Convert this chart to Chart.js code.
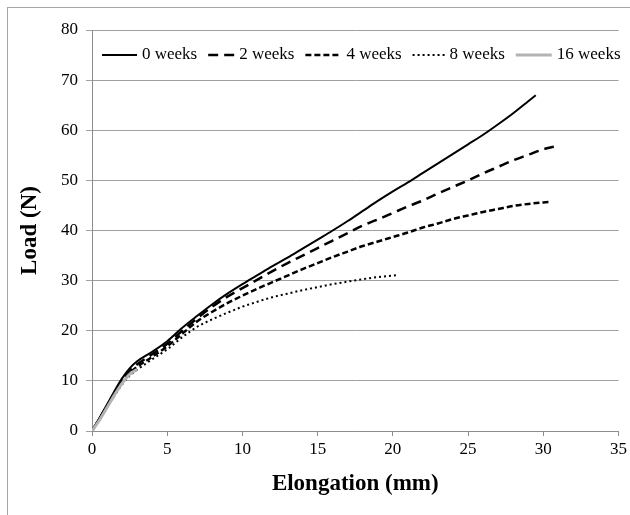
<!DOCTYPE html>
<html>
<head>
<meta charset="utf-8">
<script src="https://cdn.jsdelivr.net/npm/chart.js@4/dist/chart.umd.min.js"></script>
<style>
  html, body { margin: 0; padding: 0; background: #fff; }
  #wrap { position: relative; width: 630px; height: 515px; overflow: hidden; }
  #frame { position: absolute; left: 7px; top: 7px; width: 700px; height: 600px;
           border-top: 1px solid #a6a6a6; border-left: 1px solid #a6a6a6; }
  canvas { position: absolute; left: 0; top: 0; }
</style>
</head>
<body>
<div id="wrap">
  <div id="frame"></div>
  <canvas id="c" width="630" height="515"></canvas>
</div>
<script>
// Load–elongation curves of the samples after each storage period
const seriesNames = ['0 weeks', '2 weeks', '4 weeks', '8 weeks', '16 weeks'];

const elong0  = [0, 0.5, 1, 1.5, 2, 2.5, 3, 4, 5, 6, 7, 8, 9, 10, 11, 12, 13, 14, 15, 16, 17, 18, 19, 20, 21, 22, 23, 24, 25, 26, 27, 28, 29, 29.5];
const load0   = [0, 2.6, 5.3, 8, 10.5, 12.5, 13.9, 15.8, 17.9, 20.6, 23, 25.3, 27.4, 29.3, 31.1, 32.9, 34.6, 36.4, 38.2, 40, 41.9, 43.9, 45.9, 47.8, 49.6, 51.5, 53.4, 55.3, 57.2, 59.1, 61.2, 63.4, 65.8, 67];

const elong2  = [0, 0.5, 1, 1.5, 2, 2.5, 3, 4, 5, 6, 7, 8, 9, 10, 11, 12, 13, 14, 15, 16, 17, 18, 19, 20, 21, 22, 23, 24, 25, 26, 27, 28, 29, 30, 30.7];
const load2   = [0, 2.5, 5, 7.6, 10, 12, 13.3, 15.3, 17.4, 20, 22.5, 24.8, 26.8, 28.5, 30.2, 31.9, 33.5, 35, 36.5, 38, 39.5, 41, 42.2, 43.5, 44.8, 46, 47.4, 48.7, 50, 51.4, 52.7, 54, 55.1, 56.2, 56.7];

const elong4  = [0, 0.5, 1, 1.5, 2, 2.5, 3, 4, 5, 6, 7, 8, 9, 10, 11, 12, 13, 14, 15, 16, 17, 18, 19, 20, 21, 22, 23, 24, 25, 26, 27, 28, 29, 30, 30.5];
const load4   = [0, 2.5, 5, 7.5, 9.8, 11.6, 12.8, 14.8, 16.9, 19.4, 21.9, 23.8, 25.5, 27, 28.4, 29.7, 31, 32.3, 33.5, 34.7, 35.8, 36.9, 37.8, 38.7, 39.6, 40.6, 41.4, 42.3, 43, 43.7, 44.3, 44.9, 45.3, 45.6, 45.7];

const elong8  = [0, 0.5, 1, 1.5, 2, 2.5, 3, 4, 5, 6, 7, 8, 9, 10, 11, 12, 13, 14, 15, 16, 17, 18, 19, 20, 20.3];
const load8   = [0, 2.4, 4.8, 7.1, 9.3, 11, 12.2, 14.3, 16.3, 18.7, 20.8, 22.3, 23.6, 24.8, 25.8, 26.7, 27.4, 28.1, 28.7, 29.3, 29.8, 30.3, 30.7, 31, 31.1];

const elong16 = [0, 0.5, 1, 1.5, 2, 2.5, 3];
const load16  = [0, 2.2, 4.7, 7.2, 9.5, 11.3, 12.3];

const xTicks = [0, 5, 10, 15, 20, 25, 30, 35];
const yTicks = [0, 10, 20, 30, 40, 50, 60, 70, 80];

const pts = (xs, ys) => xs.map((x, i) => ({ x: x, y: ys[i] }));

const serif = "'Liberation Serif', 'Times New Roman', serif";

const lineStyles = [
  { borderColor: '#000000', borderWidth: 2,   borderDash: [],       legendLen: 35 },
  { borderColor: '#000000', borderWidth: 2.5, borderDash: [10, 6],  legendLen: 26 },
  { borderColor: '#000000', borderWidth: 2.5, borderDash: [6, 3],   legendLen: 36 },
  { borderColor: '#000000', borderWidth: 2,   borderDash: [2, 3],   legendLen: 32 },
  { borderColor: '#b3b3b3', borderWidth: 3,   borderDash: [],       legendLen: 36 }
];

const curves = [pts(elong0, load0), pts(elong2, load2), pts(elong4, load4), pts(elong8, load8), pts(elong16, load16)];

const datasets = curves.map((d, i) => ({
  label: seriesNames[i],
  data: d,
  pointRadius: 0,
  pointHoverRadius: 0,
  cubicInterpolationMode: 'monotone',
  fill: false,
  borderCapStyle: 'butt',
  borderColor: lineStyles[i].borderColor,
  borderWidth: lineStyles[i].borderWidth,
  borderDash: lineStyles[i].borderDash,
  order: 4 - i
}));

// One-row legend drawn across the top of the plotting area
const inlineLegend = {
  id: 'inlineLegend',
  afterDraw(chart) {
    const ctx = chart.ctx;
    const area = chart.chartArea;
    const font = "17px " + serif;
    const gap = 5;
    ctx.save();
    ctx.font = font;
    const widths = chart.data.datasets.map((ds, i) => lineStyles[i].legendLen + gap + ctx.measureText(ds.label).width);
    const left = area.left + 10, right = area.right + 2;
    const total = widths.reduce((a, b) => a + b, 0);
    const spacing = (right - left - total) / (widths.length - 1);
    const y = area.top + 25;
    let x = left;
    chart.data.datasets.forEach((ds, i) => {
      const st = lineStyles[i];
      ctx.beginPath();
      ctx.setLineDash(st.borderDash);
      ctx.lineWidth = st.borderWidth;
      ctx.strokeStyle = st.borderColor;
      ctx.moveTo(x, y);
      ctx.lineTo(x + st.legendLen, y);
      ctx.stroke();
      ctx.setLineDash([]);
      ctx.fillStyle = '#000';
      ctx.textBaseline = 'middle';
      ctx.textAlign = 'left';
      ctx.fillText(ds.label, x + st.legendLen + gap, y);
      x += widths[i] + spacing;
    });
    ctx.restore();
  }
};

new Chart(document.getElementById('c'), {
  type: 'scatter',
  data: { datasets: datasets },
  plugins: [inlineLegend],
  options: {
    responsive: false,
    animation: false,
    showLine: true,
    layout: { padding: { left: 0, top: 30, right: 9, bottom: 0 } },
    plugins: {
      tooltip: { enabled: false },
      legend: { display: false }
    },
    scales: {
      x: {
        type: 'linear',
        min: 0, max: 35,
        afterBuildTicks: s => { s.ticks = xTicks.map(v => ({ value: v })); },
        afterFit: s => { s.height = 84; },
        border: { color: '#8c8c8c', width: 1 },
        grid: { drawOnChartArea: false, drawTicks: true, tickLength: 5, color: '#8c8c8c' },
        ticks: { color: '#000', padding: 3, font: { family: serif, size: 17 } },
        title: { display: true, text: 'Elongation (mm)', color: '#000', padding: { top: 0, bottom: 17 },
                 font: { family: serif, size: 23, weight: 'bold' } }
      },
      y: {
        type: 'linear',
        min: 0, max: 80,
        afterBuildTicks: s => { s.ticks = yTicks.map(v => ({ value: v })); },
        afterFit: s => { s.width = 92; },
        border: { color: '#8c8c8c', width: 1 },
        grid: { drawTicks: true, tickLength: 6, color: '#a0a0a0', lineWidth: 1 },
        ticks: { color: '#000', padding: 8, font: { family: serif, size: 17 } },
        title: { display: true, text: 'Load (N)', color: '#000', padding: { top: 16, bottom: 0 },
                 font: { family: serif, size: 23, weight: 'bold' } }
      }
    }
  }
});
</script>
</body>
</html>
